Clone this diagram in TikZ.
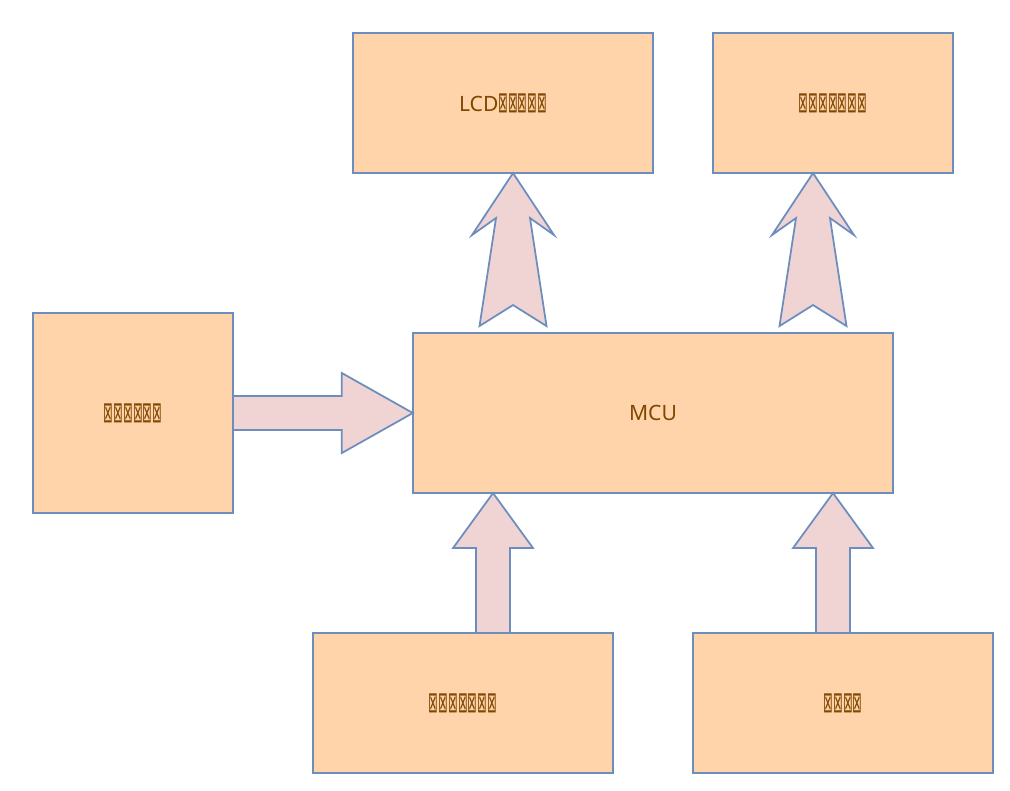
\documentclass[tikz,border=0pt]{standalone}
\usepackage{fontspec}
\setmainfont{Noto Sans}
\newfontfamily\symf{DejaVu Sans}
\usetikzlibrary{calc}
\definecolor{boxfill}{HTML}{FFD4AA}
\definecolor{edge}{HTML}{6C8EBF}
\definecolor{arrfill}{HTML}{F0D3D3}
\definecolor{txt}{HTML}{7F4700}
\newcommand\tofu{{\symf\fontsize{5.5}{6}\selectfont\raisebox{-0.25pt}{\scalebox{0.6}[1.5]{⊠}}}}
\tikzset{
  blk/.style={draw=edge, fill=boxfill, line width=0.5pt, inner sep=0pt, outer sep=0pt,
    text=txt, font=\fontsize{6}{7}\selectfont},
  barrow/.style={draw=edge, fill=arrfill, line width=0.5pt, line join=miter}
}
\begin{document}
\begin{tikzpicture}[x=0.01cm,y=-0.01cm]
\useasboundingbox (0,0) rectangle (1010,790);
\node[blk, minimum width=3cm, minimum height=1.4cm] (lcd) at (503,103) {LCD\tofu\tofu\tofu\tofu\tofu};
\node[blk, minimum width=2.4cm, minimum height=1.4cm] (tr) at (833,103) {\tofu\tofu\tofu\tofu\tofu\tofu\tofu};
\node[blk, minimum width=2cm, minimum height=2cm] (left) at (133,413) {\tofu\tofu\tofu\tofu\tofu\tofu};
\node[blk, minimum width=4.8cm, minimum height=1.6cm] (mcu) at (653,413) {MCU};
\node[blk, minimum width=3cm, minimum height=1.4cm] (bl) at (463,703) {\tofu\tofu\tofu\tofu\tofu\tofu\tofu};
\node[blk, minimum width=3cm, minimum height=1.4cm] (br) at (843,703) {\tofu\tofu\tofu\tofu};
% tapered up arrows from MCU to top boxes
\coordinate (t1) at ([xshift=0.1cm]lcd.south);
\coordinate (t2) at ([xshift=-0.2cm]tr.south);
\foreach \t in {t1,t2}{
  \draw[barrow] (\t) -- ($(\t)+(-41,62)$) -- ($(\t)+(-17,45)$) -- ($(\t)+(-33.5,153)$)
    -- ($(\t)+(0,132)$) -- ($(\t)+(33.5,153)$) -- ($(\t)+(17,45)$) -- ($(\t)+(41,62)$) -- cycle;
}
% right arrow from left box to MCU
\draw[barrow] (mcu.west) -- ($(mcu.west)+(-71,-40)$) -- ($(mcu.west)+(-71,-17)$)
  -- ($(left.east)+(0,-17)$) -- ($(left.east)+(0,17)$) -- ($(mcu.west)+(-71,17)$)
  -- ($(mcu.west)+(-71,40)$) -- cycle;
% up arrows from bottom boxes to MCU
\coordinate (b1) at ([xshift=0.3cm]bl.north |- mcu.south);
\coordinate (b2) at ([xshift=-0.1cm]br.north |- mcu.south);
\foreach \b in {b1,b2}{
  \draw[barrow] (\b) -- ($(\b)+(-40,55)$) -- ($(\b)+(-17,55)$) -- ($(\b)+(-17,140)$)
    -- ($(\b)+(17,140)$) -- ($(\b)+(17,55)$) -- ($(\b)+(40,55)$) -- cycle;
}
\end{tikzpicture}
\end{document}
